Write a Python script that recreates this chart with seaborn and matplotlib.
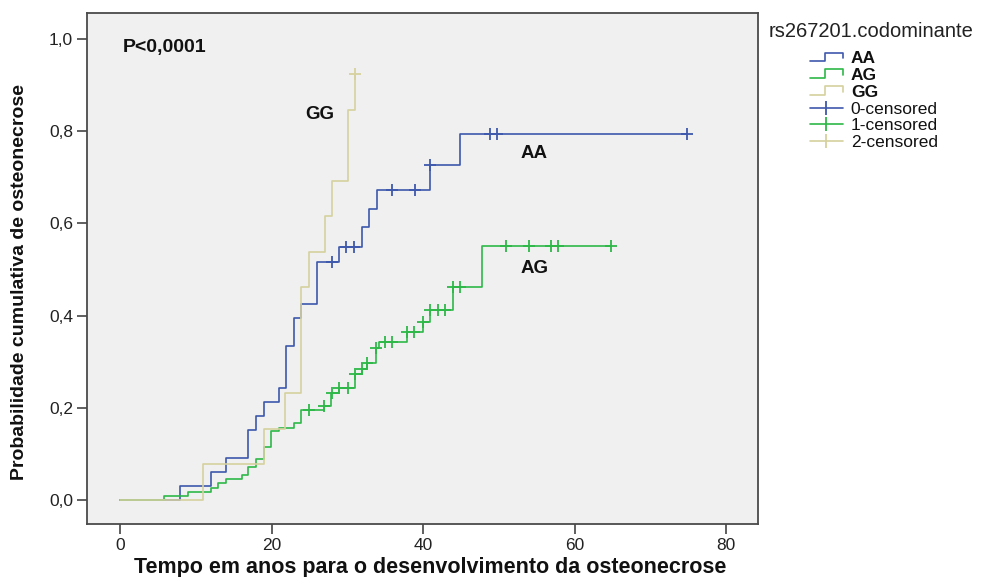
import numpy as np
import pandas as pd
import matplotlib
matplotlib.use("Agg")
import matplotlib.pyplot as plt
from matplotlib.lines import Line2D
from matplotlib.legend_handler import HandlerBase
import seaborn as sns

# Kaplan-Meier cumulative incidence by genotype (step vertices: time, cumulative probability)
aa_time = [0, 7.9, 11.9, 14.0, 16.9, 17.9, 18.9, 20.9, 21.9, 22.9, 23.9, 25.9,
           28.9, 31.9, 32.8, 33.9, 40.9, 44.8]
aa_prob = [0, 0.030, 0.061, 0.091, 0.152, 0.182, 0.212, 0.242, 0.333, 0.394, 0.424,
           0.515, 0.549, 0.591, 0.632, 0.672, 0.727, 0.794]
aa_censored = [27.9, 29.8, 30.8, 35.9, 38.9, 40.9, 48.8, 49.7, 74.8]

ag_time = [0, 5.8, 8.9, 11.9, 12.9, 14.0, 16.0, 16.9, 17.9, 18.9, 19.9, 20.9, 22.9,
           23.9, 26.9, 27.8, 28.9, 31.0, 31.9, 32.6, 33.8, 34.2, 37.9, 39.9, 40.9,
           43.9, 47.8]
ag_prob = [0, 0.009, 0.018, 0.027, 0.036, 0.045, 0.054, 0.072, 0.089, 0.115, 0.150,
           0.157, 0.167, 0.195, 0.203, 0.232, 0.242, 0.274, 0.285, 0.296, 0.329,
           0.343, 0.365, 0.386, 0.412, 0.462, 0.551]
ag_censored = [24.9, 26.9, 27.9, 28.9, 30.0, 31.0, 31.9, 32.6, 33.8, 34.9, 35.9,
               37.9, 38.8, 39.9, 40.9, 41.9, 42.9, 43.9, 44.9, 50.9, 53.9, 56.9,
               57.8, 64.8]

gg_time = [0, 10.9, 18.9, 21.8, 23.9, 24.9, 27.0, 27.9, 30.0, 31.0]
gg_prob = [0, 0.077, 0.154, 0.231, 0.462, 0.538, 0.615, 0.692, 0.846, 0.923]
gg_censored = [31.0]

groups = ["AA", "AG", "GG"]
censor_labels = ["0-censored", "1-censored", "2-censored"]
colors = ["#3E58AC", "#2EB848", "#D6D19E"]

x_ticks = [0, 20, 40, 60, 80]
y_ticks = [0.0, 0.2, 0.4, 0.6, 0.8, 1.0]
y_tick_labels = ["0,0", "0,2", "0,4", "0,6", "0,8", "1,0"]

series = {
    "AA": (aa_time, aa_prob, aa_censored),
    "AG": (ag_time, ag_prob, ag_censored),
    "GG": (gg_time, gg_prob, gg_censored),
}

# Build long tables: step curves (extended to the last follow-up) and censor marks
curve_rows, cens_rows = [], []
for g in groups:
    t, p, c = series[g]
    t = np.asarray(t, float)
    p = np.asarray(p, float)
    t_end = max(t[-1], max(c))
    for ti, pi in zip(np.append(t, t_end), np.append(p, p[-1])):
        curve_rows.append((g, ti, pi))
    for ci in c:
        idx = np.searchsorted(t, ci, side="right") - 1
        cens_rows.append((g, ci, p[idx]))

curves = pd.DataFrame(curve_rows, columns=["grupo", "tempo", "prob"])
marks = pd.DataFrame(cens_rows, columns=["grupo", "tempo", "prob"])

sns.set_style("ticks")
plt.rcParams["font.family"] = ["Liberation Sans", "DejaVu Sans"]

fig = plt.figure(figsize=(9.86, 5.77), dpi=100)
ax = fig.add_axes([0.0883, 0.0919, 0.6805, 0.8856])
ax.set_facecolor("#F0F0F0")

palette = dict(zip(groups, colors))
sns.lineplot(data=curves, x="tempo", y="prob", hue="grupo", hue_order=groups,
             palette=palette, drawstyle="steps-post", estimator=None, sort=False,
             linewidth=1.2, legend=False, ax=ax)
sns.scatterplot(data=marks, x="tempo", y="prob", hue="grupo", hue_order=groups,
                palette=palette, marker="+", s=75, linewidth=1.3, legend=False,
                ax=ax, zorder=3)

ax.set_xlim(-4.4, 84.2)
ax.set_ylim(-0.052, 1.056)
ax.set_xticks(x_ticks)
ax.set_xticklabels([str(v) for v in x_ticks])
ax.set_yticks(y_ticks)
ax.set_yticklabels(y_tick_labels)

for side in ["left", "right", "top", "bottom"]:
    ax.spines[side].set_visible(True)
    ax.spines[side].set_color("#4A4A4A")
    ax.spines[side].set_linewidth(1.3)
ax.tick_params(axis="both", direction="out", length=7, width=1.2, color="#444444",
               labelsize=12.5, labelcolor="#222222", pad=3)

ax.set_xlabel("Tempo em anos para o desenvolvimento da osteonecrose",
              fontsize=15.5, fontweight="bold", color="#111111")
ax.set_ylabel("Probabilidade cumulativa de osteonecrose",
              fontsize=14, fontweight="bold", color="#111111")
ax.xaxis.set_label_coords(0.511, -0.064)
ax.yaxis.set_label_coords(-0.088, 0.474)

ax.text(0.3, 0.982, "P<0,0001", fontsize=14, fontweight="bold", ha="left",
        va="center", color="#111111")
ax.text(26.3, 0.836, "GG", fontsize=13.5, fontweight="bold", ha="center",
        va="center", color="#111111")
ax.text(54.6, 0.752, "AA", fontsize=13.5, fontweight="bold", ha="center",
        va="center", color="#111111")
ax.text(54.7, 0.503, "AG", fontsize=13.5, fontweight="bold", ha="center",
        va="center", color="#111111")


class StepHandler(HandlerBase):
    """Legend key drawn as a small survival-style step."""

    def create_artists(self, legend, orig_handle, xdescent, ydescent, width,
                       height, fontsize, trans):
        xs = np.array([0.0, 0.45, 0.45, 1.0, 1.0]) * width - xdescent
        ys = np.array([0.15, 0.15, 0.85, 0.85, 0.4]) * height - ydescent
        line = Line2D(xs, ys, color=orig_handle.get_color(),
                      linewidth=orig_handle.get_linewidth())
        line.set_transform(trans)
        return [line]


step_handles = [Line2D([], [], color=c, linewidth=1.2) for c in colors]
cens_handles = [Line2D([], [], color=c, linewidth=1.2, marker="|", markersize=10,
                       markeredgewidth=1.3) for c in colors]

fig.text(0.78, 0.946, "rs267201.codominante", fontsize=14.5, color="#222222",
         ha="left", va="center")
leg = fig.legend(step_handles + cens_handles, groups + censor_labels,
                 loc="upper left", bbox_to_anchor=(0.8215, 0.912), frameon=False,
                 fontsize=12.5, handlelength=1.9, handletextpad=0.45,
                 labelspacing=0.1, borderpad=0, borderaxespad=0,
                 handler_map={h: StepHandler() for h in step_handles})
for i, txt in enumerate(leg.get_texts()):
    txt.set_color("#111111")
    if i < len(groups):
        txt.set_fontweight("bold")

fig.savefig("out.png", dpi=100, facecolor="white")
